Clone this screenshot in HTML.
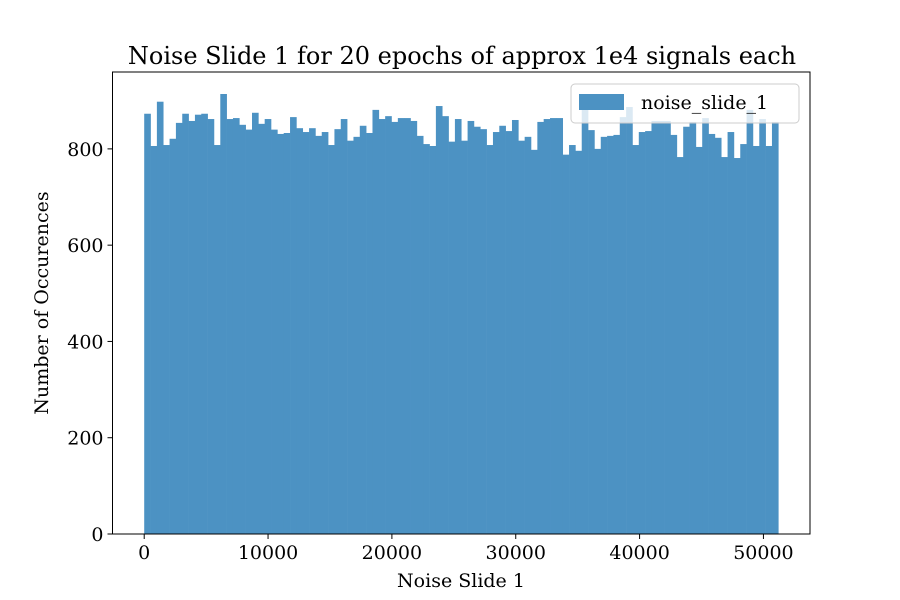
<!DOCTYPE html>
<html><head><meta charset="utf-8"><style>
body{margin:0;background:#fff;}
svg{display:block;font-family:"DejaVu Serif","Liberation Serif",serif;}
</style></head><body>
<svg id="chart" width="900" height="600">
<rect width="900" height="600" fill="#fff"/>
<text x="462" y="64" font-size="24" text-anchor="middle" fill="#000">Noise Slide 1 for 20 epochs of approx 1e4 signals each</text>
<g id="bars"></g>
<g id="axes"></g>
<text x="461" y="587" font-size="19" text-anchor="middle">Noise Slide 1</text>
<text x="48" y="303" font-size="19" text-anchor="middle" transform="rotate(-90 48 303)">Number of Occurences</text>
<g>
<rect x="571" y="84" width="228" height="39" rx="4" fill="#fff" fill-opacity="0.8" stroke="#ccc"/>
<rect x="579" y="94" width="45" height="16" fill="#4c92c3"/>
<text x="641" y="109" font-size="19">noise_slide_1</text>
</g>
</svg>
<script>
const counts = [873,806,898,808,821,854,873,858,871,873,862,808,914,862,864,850,840,875,852,862,840,831,833,866,843,835,843,827,835,808,841,862,817,825,
848,833,881,862,868,856,864,864,858,827,810,806,889,868,815,862,817,858,846,841,808,835,848,837,860,817,825,798,856,862,864,864,788,808,
796,883,839,800,825,827,829,866,887,808,835,837,858,858,858,
829,783,846,856,804,864,831,823,783,835,781,810,881,806,862,806,856];
const binStart = 0;
const binEnd = 51200;
const xTicks = [0,10000,20000,30000,40000,50000];
const yTicks = [0,200,400,600,800];
const NS = "http://www.w3.org/2000/svg";
const L=112.5,R=810,T=72,B=534;
const span = binEnd-binStart, xmin = binStart-span*0.05, xmax = binEnd+span*0.05;
const ymax = Math.max(...counts)*1.05;
const xs = v => L+(v-xmin)/(xmax-xmin)*(R-L);
const ys = v => B-v/ymax*(B-T);
const bars = document.getElementById('bars');
const w = span/counts.length;
counts.forEach((c,i)=>{
  const r=document.createElementNS(NS,'rect');
  const x0=xs(binStart+i*w), x1=xs(binStart+(i+1)*w);
  r.setAttribute('x',x0);r.setAttribute('width',x1-x0+0.3);
  r.setAttribute('y',ys(c));r.setAttribute('height',B-ys(c));
  r.setAttribute('fill','#4c92c3');
  
  
  bars.appendChild(r);
});
const ax=document.getElementById('axes');
function el(tag,attrs,txt){const e=document.createElementNS(NS,tag);for(const k in attrs)e.setAttribute(k,attrs[k]);if(txt!==undefined)e.textContent=txt;ax.appendChild(e);return e;}
const frame=el('rect',{x:L,y:T,width:R-L,height:B-T,fill:'none',stroke:'#000','stroke-width':1});


xTicks.forEach(v=>{
  const x=xs(v);
  const t=el('line',{x1:x,x2:x,y1:B,y2:B+5,stroke:'#000'});
  
  
  const lb=el('text',{x:x,y:B+25,'font-size':19,'text-anchor':'middle'},String(v));
  
  
});
yTicks.forEach(v=>{
  const y=ys(v);
  const t=el('line',{x1:L-5,x2:L,y1:y,y2:y,stroke:'#000'});
  
  
  const lb=el('text',{x:L-9,y:y+7,'font-size':19,'text-anchor':'end'},String(v));
  
  
});
</script>
</body></html>
